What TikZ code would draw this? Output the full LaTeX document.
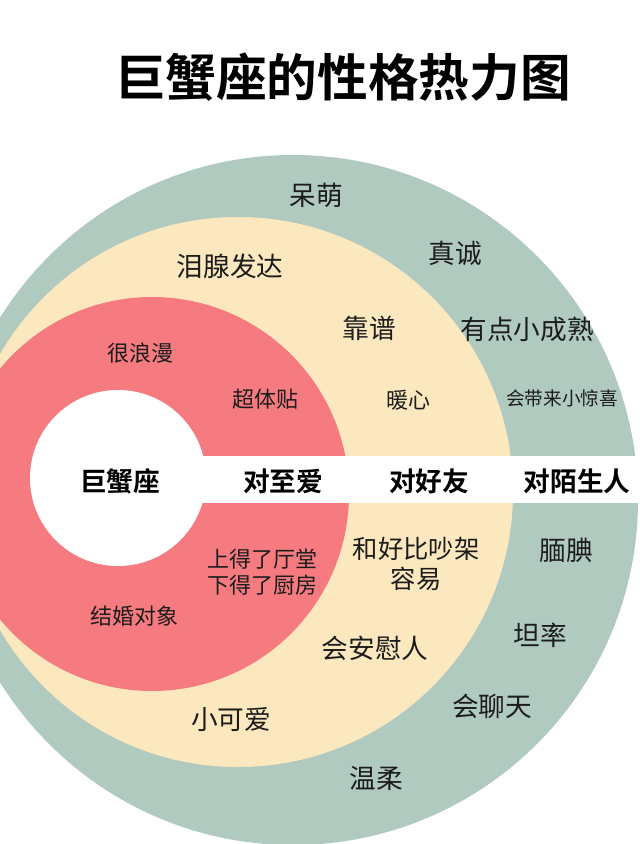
\documentclass[tikz,border=0pt]{standalone}
\usepackage{fontspec}
\newfontfamily\cjk{Noto Sans CJK SC}
\newfontfamily\cjkbold{Noto Sans CJK SC Bold}
\usepackage{xcolor}
\definecolor{ringgreen}{HTML}{B0CAC0}
\definecolor{ringyellow}{HTML}{FCE8BF}
\definecolor{ringred}{HTML}{F57B80}
\definecolor{inkdark}{HTML}{1C1C1C}

\begin{document}
\begin{tikzpicture}[x=0.75pt, y=-0.75pt,
  trait/.style={font=\cjk\fontsize{20}{24}\selectfont, text=inkdark, inner sep=0pt},
  traitsm/.style={font=\cjk\fontsize{16.5}{19}\selectfont, text=inkdark, inner sep=0pt},
  traitxs/.style={font=\cjk\fontsize{14}{17}\selectfont, text=inkdark, inner sep=0pt},
  head/.style={font=\cjkbold\fontsize{20}{24}\selectfont, text=black, inner sep=0pt}]
  \useasboundingbox (0,0) rectangle (640,844);
  \fill[white] (0,0) rectangle (640,844);
  % rings, cut at the page edge
  \begin{scope}
    \clip (0,0) rectangle (640,844);
    \fill[ringgreen] (293,500) circle[radius=345];
    \fill[ringyellow] (238,492) circle[radius=275];
    \fill[ringred] (152,494) circle[radius=197];
    \fill[white] (118,478) circle[radius=88];
    \fill[white] (150,456) rectangle (640,503);
  \end{scope}

  \node[font=\cjkbold\fontsize{38}{42}\selectfont, inner sep=0pt] (title) at (343,77) {巨蟹座的性格热力图};

  \node[head] (centre) at (120,481) {巨蟹座};
  \node[head] (love) at (283,481) {对至爱};
  \node[head] (friend) at (429,481) {对好友};
  \node[head] (stranger) at (577,481) {对陌生人};

  % inner ring
  \node[traitsm] (romantic) at (141,353) {很浪漫};
  \node[traitsm] (caring) at (265,399) {超体贴};
  \node[traitsm, align=center] (allround) at (262,572) {上得了厅堂\\下得了厨房};
  \node[traitsm] (spouse) at (134,616) {结婚对象};

  % middle ring
  \node[trait] (tears) at (230,266) {泪腺发达};
  \node[trait] (reliable) at (369,328) {靠谱};
  \node[traitsm] (warm) at (408,400) {暖心};
  \node[font=\cjk\fontsize{19}{23}\selectfont, text=inkdark, inner sep=0pt, align=center] (makeup) at (416,564) {和好比吵架\\容易};
  \node[trait] (comfort) at (375,648) {会安慰人};
  \node[trait] (cute) at (231,720) {小可爱};

  % outer ring
  \node[trait] (silly) at (316,195) {呆萌};
  \node[trait] (sincere) at (455,253) {真诚};
  \node[trait] (mature) at (527,329) {有点小成熟};
  \node[traitxs] (surprise) at (562,398) {会带来小惊喜};
  \node[trait] (shy) at (566,550) {腼腆};
  \node[trait] (frank) at (540,635) {坦率};
  \node[trait] (chat) at (492,706) {会聊天};
  \node[trait] (gentle) at (376,779) {温柔};
\end{tikzpicture}
\end{document}
